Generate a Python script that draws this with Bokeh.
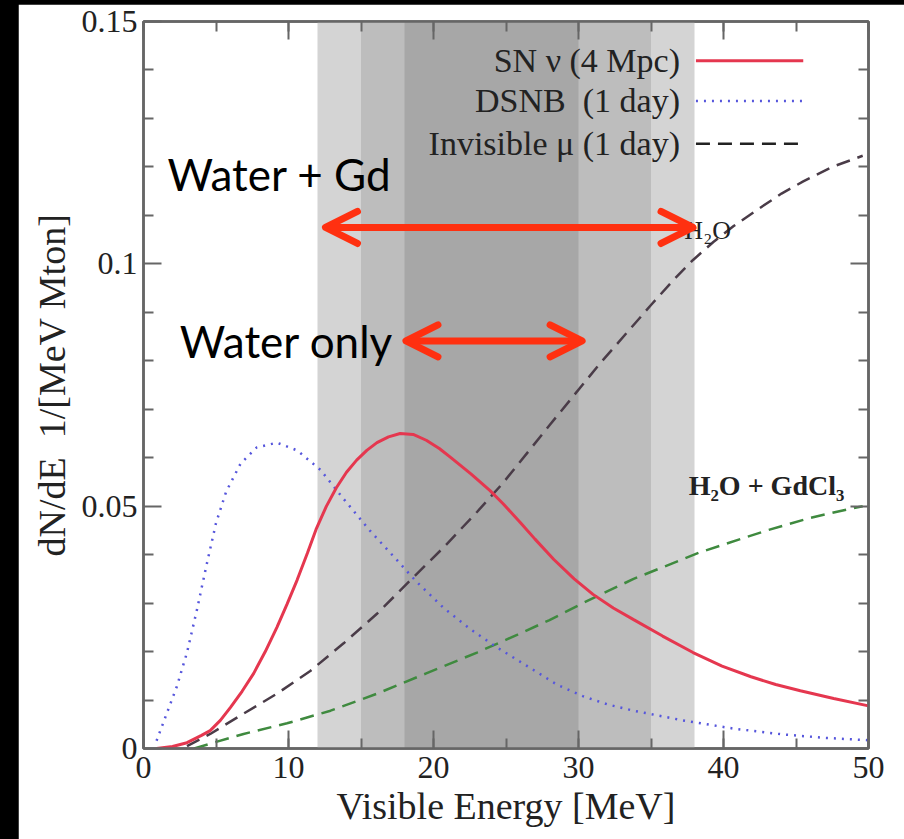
import numpy as np
from bokeh.plotting import figure
from bokeh.models import (LinearAxis, SingleIntervalTicker, FixedTicker, CustomJSTickFormatter,
                          Range1d, Label, Arrow, OpenHead)
from bokeh.embed import file_html
from bokeh.resources import INLINE

# ---------------- data ----------------
sn_energy = [0.9, 2.0, 3.0, 4.0, 4.6, 5.3, 6.0, 6.8, 7.6, 8.4, 9.2, 9.9, 10.6, 11.3, 11.9, 12.6,
             13.3, 14.0, 14.7, 15.4, 16.1, 16.9, 17.7, 18.6, 19.5, 20.4, 21.2, 22.6, 23.9, 24.8,
             26.0, 27.0, 28.3, 29.7, 31.0, 32.4, 33.8, 35.8, 37.9, 39.9, 41.9, 43.6, 45.3, 47.6, 50.0]
sn_rate = [0.0, 0.0004, 0.0012, 0.0027, 0.0037, 0.0058, 0.0085, 0.0118, 0.0155, 0.0200, 0.0250,
           0.0298, 0.0348, 0.0403, 0.0452, 0.0499, 0.0538, 0.0570, 0.0595, 0.0615, 0.0631, 0.0643,
           0.0650, 0.0648, 0.0636, 0.0619, 0.0600, 0.0566, 0.0532, 0.0505, 0.0466, 0.0432, 0.0390,
           0.0350, 0.0318, 0.0290, 0.0266, 0.0232, 0.0198, 0.0170, 0.0148, 0.0132, 0.0119, 0.0103, 0.0088]

dsnb_energy = [0.9, 1.6, 2.3, 3.0, 3.7, 4.3, 5.0, 5.7, 6.7, 7.8, 9.2, 10.6, 12.2, 13.8, 15.6, 17.5,
               18.8, 20.7, 22.6, 24.3, 26.9, 28.5, 30.3, 32.0, 33.8, 37.2, 40.7, 44.1, 47.0, 50.0]
dsnb_rate = [0.0016, 0.0072, 0.0128, 0.0198, 0.0288, 0.0372, 0.0465, 0.0530, 0.0588, 0.0621, 0.0631,
             0.0615, 0.0575, 0.0515, 0.0450, 0.0388, 0.0345, 0.0290, 0.0245, 0.0210, 0.0162, 0.0132,
             0.0108, 0.0091, 0.0078, 0.0058, 0.0041, 0.0029, 0.0022, 0.0017]

h2o_energy = [3.0, 4.6, 6.9, 9.2, 11.5, 13.8, 16.1, 18.4, 20.7, 23.0, 24.8, 28.0, 31.5, 35.0, 36.5,
              37.9, 39.3, 40.7, 42.5, 44.0, 45.5, 47.5, 49.6]
h2o_rate = [0.0005, 0.0030, 0.0072, 0.0113, 0.0160, 0.0217, 0.0278, 0.0347, 0.0415, 0.0488, 0.0548,
            0.0667, 0.0795, 0.0915, 0.0965, 0.1008, 0.1045, 0.1078, 0.1115, 0.1145, 0.1170, 0.1200,
            0.1223]

gd_energy = [3.5, 4.6, 6.9, 9.9, 12.9, 16.1, 19.5, 23.0, 25.8, 28.0, 30.3, 33.8, 38.4, 43.0, 46.0,
             48.8, 49.6]
gd_rate = [0.0, 0.0010, 0.0030, 0.0052, 0.0078, 0.0113, 0.0155, 0.0198, 0.0235, 0.0265, 0.0300,
           0.0350, 0.0405, 0.0450, 0.0476, 0.0495, 0.0500]

band_low = [12, 15, 18]
band_high = [38, 35, 30]

y_ticks = [0, 0.05, 0.1, 0.15]
y_minor_ticks = [0.01, 0.02, 0.03, 0.04, 0.06, 0.07, 0.08, 0.09, 0.11, 0.12, 0.13, 0.14]

legend_labels = ["SN \u03bd (4 Mpc)", "DSNB\u00a0 (1 day)", "Invisible \u03bc (1 day)"]
x_label = "Visible Energy [MeV]"
y_label = "dN/dE\u00a0 1/[MeV Mton]"

# ---------------- styles ----------------
band_colors = ["#d4d4d4", "#bdbdbd", "#a7a7a7"]
RED = "#e5374f"
BLUE = "#5656dc"
DARK = "#4a3c48"
GREEN = "#3f8a3f"
ARROW = "#ff3010"
SERIF = "Liberation Serif"
AXC = "#666666"
TXT = "#222222"

p = figure(width=886, height=835, output_backend="svg", toolbar_location=None,
           x_range=Range1d(0, 50), y_range=Range1d(0, 0.15),
           min_border_left=125, min_border_right=36, min_border_top=17, min_border_bottom=91,
           background_fill_color="white", border_fill_color="white")
p.margin = (4, 0, 0, 18)
p.grid.visible = False
p.outline_line_color = AXC
p.outline_line_width = 2.5

# shaded bands
p.quad(left=band_low, right=band_high, bottom=0, top=0.15, fill_color=band_colors, line_color=None)

# curves
p.line(gd_energy, gd_rate, line_color=GREEN, line_width=2.5, line_dash="14 8")
p.line(h2o_energy, h2o_rate, line_color=DARK, line_width=2.5, line_dash="14 8")
p.line(dsnb_energy, dsnb_rate, line_color=BLUE, line_width=2.5, line_dash="2 6")
p.line(sn_energy, sn_rate, line_color=RED, line_width=3)

# axes
fmt = CustomJSTickFormatter(code="return tick.toFixed(2).replace(/0+$/,'').replace(/\\.$/,'');")

def style_axis(ax, labels=True):
    ax.axis_line_color = AXC
    ax.axis_line_width = 2.5
    ax.major_tick_line_color = AXC
    ax.minor_tick_line_color = AXC
    ax.major_tick_line_width = 2
    ax.minor_tick_line_width = 2
    ax.major_tick_in = 18
    ax.major_tick_out = 0
    ax.minor_tick_in = 10
    ax.minor_tick_out = 0
    if labels:
        ax.major_label_text_font = SERIF
        ax.major_label_text_font_size = "32px"
        ax.major_label_text_color = TXT
        ax.axis_label_text_font = SERIF
        ax.axis_label_text_font_size = "38px"
        ax.axis_label_text_font_style = "normal"
        ax.axis_label_text_color = TXT
    else:
        ax.major_label_text_font_size = "0px"
        ax.major_label_text_color = None

p.xaxis.ticker = SingleIntervalTicker(interval=10, num_minor_ticks=2)
p.yaxis.ticker = FixedTicker(ticks=y_ticks, minor_ticks=y_minor_ticks)
p.yaxis.formatter = fmt
p.xaxis.axis_label = x_label
p.yaxis.axis_label = y_label
style_axis(p.xaxis[0])
style_axis(p.yaxis[0])
p.xaxis.major_label_standoff = 8
p.xaxis.axis_label_standoff = 4
p.yaxis.major_label_standoff = 6
p.yaxis.axis_label_standoff = 6

top = LinearAxis(ticker=SingleIntervalTicker(interval=10, num_minor_ticks=2))
right = LinearAxis(ticker=FixedTicker(ticks=y_ticks, minor_ticks=y_minor_ticks))
style_axis(top, labels=False)
style_axis(right, labels=False)
p.add_layout(top, "above")
p.add_layout(right, "right")

# legend (text to the left of the line sample)
leg_y = [0.1419, 0.1336, 0.1248]
leg_styles = [(RED, None, 3), (BLUE, "2 6", 2.5), ("#222222", "14 8", 2.5)]
for lab, yy, (c, dash, w) in zip(legend_labels, leg_y, leg_styles):
    p.add_layout(Label(x=37.0, y=yy, text=lab, text_align="right", text_baseline="middle",
                       text_font=SERIF, text_font_size="34px", text_color=TXT))
    kw = dict(line_color=c, line_width=w)
    if dash:
        kw["line_dash"] = dash
    p.line([38.1, 45.5], [yy, yy], **kw)

# curve labels
p.add_layout(Label(x=37.3, y=0.1068, text="H\u2082O", text_align="left", text_baseline="middle",
                   text_font=SERIF, text_font_size="26px", text_color=TXT))
p.add_layout(Label(x=37.6, y=0.0542, text="H\u2082O + GdCl\u2083", text_align="left",
                   text_baseline="middle", text_font=SERIF, text_font_size="28px",
                   text_font_style="bold", text_color=TXT))

# annotations
p.add_layout(Label(x=1.65, y=0.1185, text="Water + Gd", text_align="left", text_baseline="middle",
                   text_font="Lato", text_font_size="44px", text_color="black"))
p.add_layout(Label(x=2.5, y=0.0840, text="Water only", text_align="left", text_baseline="middle",
                   text_font="Lato", text_font_size="44px", text_color="black"))

for (x0, x1, yy) in [(12.55, 37.9, 0.1075), (18.1, 30.25, 0.0841)]:
    p.add_layout(Arrow(x_start=x0, y_start=yy, x_end=x1, y_end=yy,
                       line_color=ARROW, line_width=7,
                       start=OpenHead(size=32, line_color=ARROW, line_width=7,
                                      line_cap="round", line_join="round"),
                       end=OpenHead(size=32, line_color=ARROW, line_width=7,
                                    line_cap="round", line_join="round")))

html = file_html(p, INLINE)
html = html.replace("</head>", "<style>html,body{margin:0;padding:0;background:#000;overflow:hidden}</style></head>", 1)
open("out.html", "w").write(html)
